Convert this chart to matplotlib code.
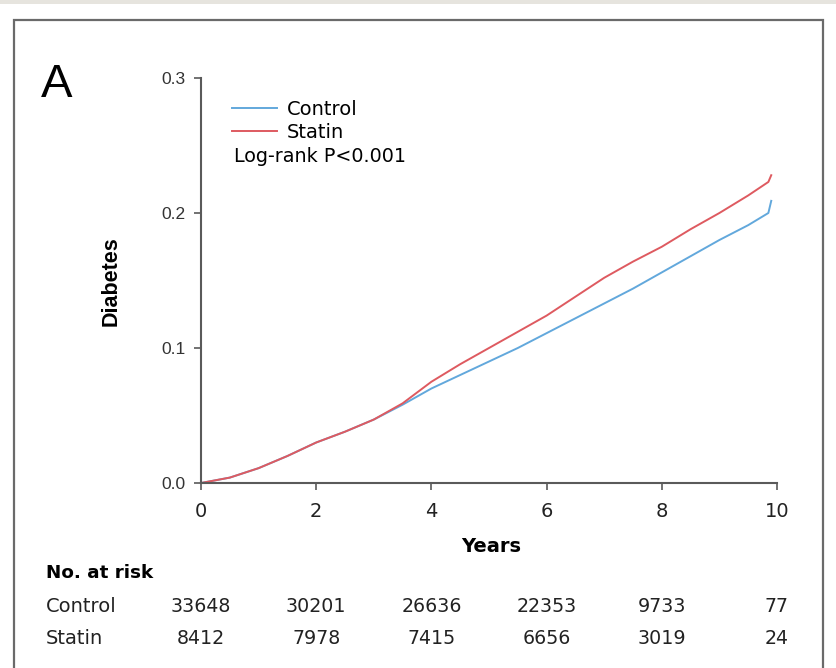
import matplotlib
matplotlib.use("Agg")
import matplotlib.pyplot as plt
from matplotlib.patches import Rectangle
from matplotlib.transforms import blended_transform_factory

# ---- data ----
years = [0, 0.5, 1, 1.5, 2, 2.5, 3, 3.5, 4, 4.5, 5, 5.5, 6, 6.5, 7, 7.5, 8, 8.5, 9, 9.5, 9.85, 9.9]
control = [0, 0.004, 0.011, 0.020, 0.030, 0.038, 0.047, 0.058, 0.070, 0.080, 0.090, 0.100,
           0.111, 0.122, 0.133, 0.144, 0.156, 0.168, 0.180, 0.191, 0.200, 0.209]
statin = [0, 0.004, 0.011, 0.020, 0.030, 0.038, 0.047, 0.059, 0.075, 0.088, 0.100, 0.112,
          0.124, 0.138, 0.152, 0.164, 0.175, 0.188, 0.200, 0.213, 0.223, 0.228]
x_ticks = [0, 2, 4, 6, 8, 10]
y_ticks = [0.0, 0.1, 0.2, 0.3]
y_tick_labels = ["0.0", "0.1", "0.2", "0.3"]
risk_groups = ["Control", "Statin"]
risk_control = [33648, 30201, 26636, 22353, 9733, 77]
risk_statin = [8412, 7978, 7415, 6656, 3019, 24]

# ---- layout ----
W, H = 837, 668
c_blue = "#62a8dc"
c_red = "#de5a60"
arial = "Liberation Sans"
verd = "DejaVu Sans"

fig = plt.figure(figsize=(W / 100, H / 100), dpi=100)
fig.patch.set_facecolor("white")

def fx(px):
    return px / W

def fy(py):
    return 1 - py / H

# top band and frame
fig.patches.append(Rectangle((0, fy(4)), 1, 4 / H, transform=fig.transFigure,
                             facecolor="#e6e4de", edgecolor="none"))
fig.patches.append(Rectangle((fx(14), fy(700)), fx(823) - fx(14), fy(20) - fy(700),
                             transform=fig.transFigure, facecolor="none",
                             edgecolor="#6a6a6a", linewidth=1.6, clip_on=False))

ax = fig.add_axes([fx(201), fy(483), fx(777) - fx(201), fy(78) - fy(483)])
ax.plot(years, control, color=c_blue, lw=1.4, label="Control")
ax.plot(years, statin, color=c_red, lw=1.4, label="Statin")
ax.set_xlim(0, 10)
ax.set_ylim(0, 0.3)
for s in ["top", "right"]:
    ax.spines[s].set_visible(False)
for s in ["left", "bottom"]:
    ax.spines[s].set_color("#5a5a5a")
    ax.spines[s].set_linewidth(1.5)
ax.set_xticks(x_ticks)
ax.set_xticklabels([str(t) for t in x_ticks], fontsize=14, family=verd, color="#222222")
ax.set_yticks(y_ticks)
ax.set_yticklabels(y_tick_labels, fontsize=12.5, family=arial, color="#333333")
ax.tick_params(axis="both", direction="out", length=5, width=1.2, color="#5a5a5a")
ax.tick_params(axis="x", pad=9)
ax.tick_params(axis="y", pad=6)

fig.text(fx(111), fy(281), "Diabetes", fontsize=15.5, fontweight="bold", family=arial,
         rotation=90, ha="center", va="center")
fig.text(fx(491), fy(546), "Years", fontsize=14, fontweight="bold", family=verd,
         ha="center", va="center")

ax.legend(loc="upper left",
          bbox_to_anchor=(fx(235) - fx(201), (fy(92) - fy(483)) / (fy(78) - fy(483))),
          bbox_transform=ax.transAxes, frameon=False, handlelength=2.3,
          handletextpad=0.5, labelspacing=0.2, borderaxespad=0,
          prop={"family": verd, "size": 14})
fig.text(fx(234), fy(157), "Log-rank P<0.001", fontsize=13.8, family=verd, va="center")

fig.text(fx(41), fy(85), "A", fontsize=34, family=arial, va="center", ha="left")

fig.text(fx(46), fy(573), "No. at risk", fontsize=13.2, fontweight="bold", family=verd, va="center")
tr = blended_transform_factory(ax.transData, fig.transFigure)
rows = [risk_control, risk_statin]
row_y = [606, 638]
for g, vals, yy in zip(risk_groups, rows, row_y):
    fig.text(fx(46), fy(yy), g, fontsize=14, family=verd, va="center", ha="left", color="#222222")
    for xv, v in zip(x_ticks, vals):
        ax.text(xv, fy(yy), str(v), transform=tr, fontsize=13.7, family=verd,
                va="center", ha="center", clip_on=False, color="#222222")

fig.savefig("out.png", dpi=100)
